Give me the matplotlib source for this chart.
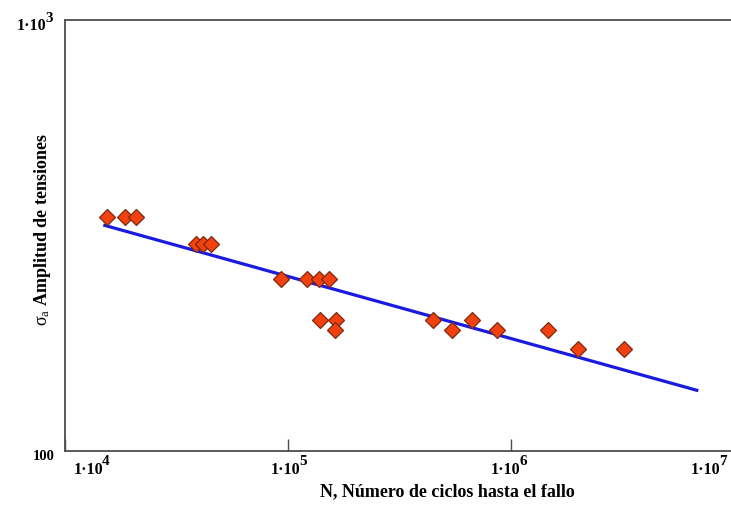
"""S-N (Wöhler) curve: stress amplitude vs cycles to failure, log-log."""

import matplotlib
import matplotlib.pyplot as plt

matplotlib.use("Agg")

# ── data ─────────────────────────────────────────────────────────────────────

cycles = [15380, 18580, 20800,
          38630, 41690, 44980,
          93130, 121400, 138100, 153100,
          139000, 164000, 162500,
          445600, 542100, 666400, 861000,
          1466000, 1990000, 3214000]
stress = [350, 350, 350,
          302, 302, 302,
          250, 250, 250, 250,
          201, 201, 191,
          201, 191, 201, 191,
          191, 172, 172]

# fitted Basquin line, end points
fit_cycles = [14850, 6.92e6]
fit_stress = [334.5, 138.0]

x_ticks = [1e4, 1e5, 1e6, 1e7]
x_exps = ["4", "5", "6", "7"]
y_lim = (100, 1000)

# ── style ────────────────────────────────────────────────────────────────────

plt.rcParams["font.family"] = ["Liberation Serif", "DejaVu Serif"]
plt.rcParams["mathtext.fontset"] = "custom"
plt.rcParams["mathtext.rm"] = "Liberation Serif"
plt.rcParams["mathtext.it"] = "Liberation Serif:italic"

SPINE = "#4d4d4d"
W, H = 731, 510


def _power_label(fig, x_join, y_mid, exp, size=11.5):
    """Mathcad-style '1·10^n': full size exponent raised above the base."""
    fig.text(x_join / W, 1 - y_mid / H, "1·10", ha="right", va="center",
             fontsize=size, fontweight="bold")
    fig.text((x_join - 1) / W, 1 - (y_mid - 8) / H, exp, ha="left",
             va="center", fontsize=size - 0.5, fontweight="bold")


def main() -> None:
    fig = plt.figure(figsize=(W / 100, H / 100), dpi=100)
    # axes run slightly past the right edge of the image (as in the original crop)
    ax = fig.add_axes([65 / W, 58 / H, 669 / W, 431 / H])
    ax.set_xscale("log")
    ax.set_yscale("log")
    ax.set_xlim(x_ticks[0], x_ticks[-1])
    ax.set_ylim(*y_lim)

    ax.plot(fit_cycles, fit_stress, color="#1a1ae0", linewidth=2.3, zorder=2,
            solid_capstyle="butt")
    ax.plot(cycles, stress, linestyle="none", marker="D", markersize=8.0,
            markerfacecolor="#f2400f", markeredgecolor="#7a2a12",
            markeredgewidth=0.9, zorder=3)

    for side in ("left", "top", "bottom", "right"):
        ax.spines[side].set_color(SPINE)
        ax.spines[side].set_linewidth(1.3)

    # ticks: only small inward marks on the bottom axis
    ax.set_xticks(x_ticks)
    ax.set_xticks([], minor=True)
    ax.set_yticks([])
    ax.set_yticks([], minor=True)
    ax.tick_params(axis="x", which="major", direction="in", length=9,
                   width=1.0, color=SPINE, labelbottom=False)

    # tick labels, placed like the original (ends pulled inside the axis)
    for xj, ex in zip([103, 300, 520, 720], x_exps):
        _power_label(fig, xj, 470, ex)
    _power_label(fig, 46, 26, "3")
    fig.text(55 / W, 1 - 456 / H, "100", ha="right", va="center",
             fontsize=10.5, fontweight="bold")

    fig.text(447 / W, 1 - 492 / H, "N, Número de ciclos hasta el fallo",
             ha="center", va="center", fontsize=13, fontweight="bold")
    fig.text(43 / W, 1 - 230 / H,
             r"$\mathrm{\sigma}_{\mathrm{a}}$ Amplitud de tensiones",
             rotation=90, ha="center", va="center", fontsize=13,
             fontweight="bold")

    fig.savefig("out.png", dpi=100)
    plt.close(fig)


if __name__ == "__main__":
    main()
